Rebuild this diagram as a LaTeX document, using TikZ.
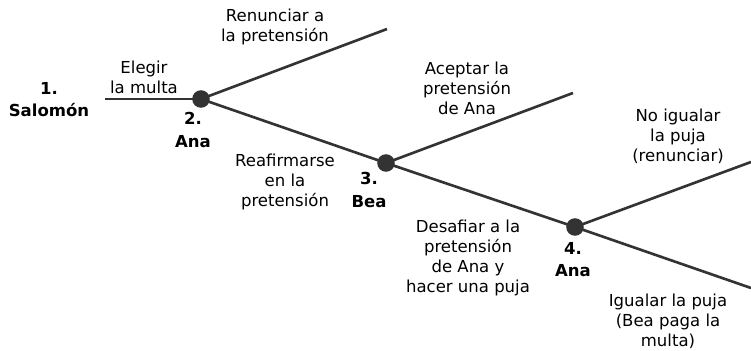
\documentclass[tikz,border=0pt]{standalone}
\usepackage{fontspec}
\setmainfont{DejaVu Sans}
\definecolor{linegray}{HTML}{333333}
\tikzset{
  dot/.style = {circle, fill = linegray, inner sep = 0pt, minimum size = 10},
  branch/.style = {draw = linegray, line width = 1.5},
  lab/.style = {align = center, inner sep = 0pt, font = \fontsize{9.4}{11.4}\selectfont},
  player/.style = {lab, font = \fontsize{9.4}{12.6}\selectfont\bfseries}
}
\begin{document}
\begin{tikzpicture}[x = 0.02cm, y = -0.02cm]
		\useasboundingbox (0,0) rectangle (751,351);
		% decision points
		\foreach \n/\x/\y in {ana/201/99, bea/386/163, anb/575/227}{
			\node[dot] (\n) at (\x, \y) {};
			}
		\coordinate (start) at (105,99);
		\coordinate (renuncia) at (387,29);
		\coordinate (acepta) at (573,93);
		\coordinate (noiguala) at (751,162);
		\coordinate (iguala) at (751,288);
		\draw[branch] (start) -- (ana.center);
		\draw[branch] (ana.center) -- (renuncia);
		\draw[branch] (ana.center) -- (bea.center);
		\draw[branch] (bea.center) -- (acepta);
		\draw[branch] (bea.center) -- (anb.center);
		\draw[branch] (anb.center) -- (noiguala);
		\draw[branch] (anb.center) -- (iguala);
		% players
		\node[player] (p1) at (49,100) {1.\\Salomón};
		\node[player] (p2) at (193,130) {2.\\Ana};
		\node[player] (p3) at (369,190) {3.\\Bea};
		\node[player] (p4) at (573,260) {4.\\Ana};
		% moves
		\node[lab] (m1) at (144,77) {Elegir\\la multa};
		\node[lab] (m2) at (275,27) {Renunciar a\\la pretensión};
		\node[lab] (m3) at (285,182) {Reafirmarse\\en la\\pretensión};
		\node[lab] (m4) at (467,88) {Aceptar la\\pretensión\\de Ana};
		\node[lab] (m5) at (468,258) {Desafiar a la\\pretensión\\de Ana y\\hacer una puja};
		\node[lab] (m6) at (678,136) {No igualar\\la puja\\(renunciar)};
		\node[lab] (m7) at (668,321) {Igualar la puja\\(Bea paga la\\multa)};
\end{tikzpicture}
\end{document}
